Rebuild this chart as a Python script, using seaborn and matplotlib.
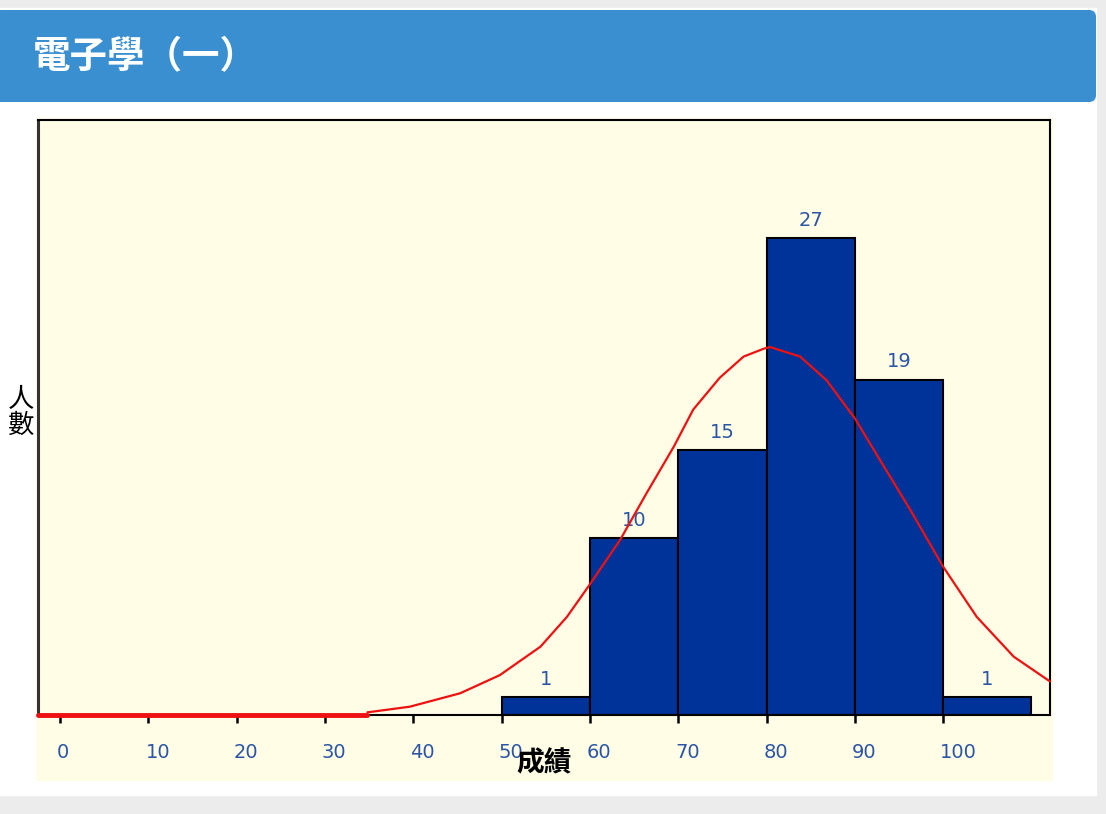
import matplotlib
matplotlib.use("Agg")
from matplotlib import pyplot as plt
from matplotlib.patches import Rectangle, FancyBboxPatch
from matplotlib.transforms import IdentityTransform, ScaledTranslation
import pandas as pd
import seaborn as sns

# chart texts
title = "電子學（一）"
x_label = "成績"
y_label = "人數"

# histogram: score bins and number of students
bin_edges = [50, 60, 70, 80, 90, 100, 110]
bin_counts = [1, 10, 15, 27, 19, 1]
x_ticks = [0, 10, 20, 30, 40, 50, 60, 70, 80, 90, 100]

# normal curve, points
curve_x = [34.8, 39.6, 45.3, 49.8, 54.4, 57.4, 59.8, 63.4, 66.4, 69.5, 71.7,
           74.7, 77.4, 79.7, 80.4, 83.8, 86.8, 90.0, 92.9, 96.3, 100.0,
           103.8, 108.0, 112.1]
curve_y = [0.15, 0.47, 1.23, 2.26, 3.87, 5.56, 7.26, 9.9, 12.55, 15.2, 17.3,
           19.1, 20.3, 20.75, 20.84, 20.3, 18.96, 16.8, 14.4, 11.6, 8.4,
           5.56, 3.3, 1.9]
# flat left part of the curve lying on the baseline
tail_x = [-2.5, 34.8]
tail_y = [0, 0]

sns.set_theme(style="white")
plt.rcParams['font.family'] = ['DejaVu Sans']
cjk = ['Noto Sans CJK TC', 'DejaVu Sans']

W, H = 1106, 814
fig = plt.figure(figsize=(W / 100, H / 100), dpi=100, facecolor="#ececec")


def box(x0, y0, x1, y1):
    # pixel box (top-left origin) -> figure fraction
    return [x0 / W, 1 - y1 / H, (x1 - x0) / W, (y1 - y0) / H]


# white card, blue header, yellow chart area
fig.patches.append(Rectangle(box(0, 8, 1096, 795)[:2], 1096 / W, 787 / H,
                             transform=fig.transFigure, color="white", zorder=-3))
fig.patches.append(FancyBboxPatch((-10, H - 102), 1106, 92,
                                  boxstyle="round,pad=0,rounding_size=7",
                                  transform=IdentityTransform(),
                                  facecolor="#3a8fd1", edgecolor="none", zorder=-2))
yb = box(36, 118, 1052, 780)
fig.patches.append(Rectangle(yb[:2], yb[2], yb[3], transform=fig.transFigure,
                             color="#fffde6", zorder=-2))

ax = fig.add_axes(box(38, 120, 1050, 715))
ax.set_zorder(2)
ax.set_facecolor("#fffde6")

df = pd.DataFrame({
    "start": bin_edges[:-1],
    "count": bin_counts,
})
df["mid"] = df["start"] + 5

sns.histplot(data=df, x="mid", weights="count", bins=bin_edges,
             color="#003399", alpha=1, edgecolor="black", linewidth=1.5, ax=ax)
ax.bar_label(ax.containers[0], padding=6, color="#2b55a5", fontsize=14)

sns.lineplot(x=curve_x, y=curve_y, color="#ee1111", linewidth=1.6, ax=ax)
sns.lineplot(x=tail_x, y=tail_y, color="#ee1111", linewidth=3.5, ax=ax)
for ln in ax.lines:
    ln.set_clip_on(False)
    ln.set_zorder(5)
    ln.set_solid_joinstyle("round")

ax.set_xlim(-2.5, 112.1)
ax.set_ylim(0, 33.7)
ax.set_xticks(x_ticks)
ax.set_yticks([])
ax.set_xlabel("")
ax.set_ylabel("")
ax.tick_params(axis="x", direction="out", length=6, width=1.8, color="black",
               pad=14, labelsize=14, labelcolor="#2b55a5", bottom=True)
shift = ScaledTranslation(-3 / 100, 0, fig.dpi_scale_trans)
for lbl in ax.get_xticklabels():
    lbl.set_horizontalalignment("left")
    lbl.set_transform(lbl.get_transform() + shift)

for side in ["top", "right", "bottom"]:
    ax.spines[side].set_color("black")
    ax.spines[side].set_linewidth(1.5)
ax.spines["left"].set_color("#333333")
ax.spines["left"].set_linewidth(2.2)

fig.text(33 / W, 1 - 57 / H, title, color="white", fontsize=27,
         fontweight="bold", family=cjk, ha="left", va="center")
fig.text(544 / W, 1 - 763 / H, x_label, color="black", fontsize=20,
         fontweight="bold", family=cjk, ha="center", va="center", zorder=3)
fig.text(21 / W, 1 - 412 / H, "\n".join(y_label), color="black", fontsize=19,
         family=cjk, ha="center", va="center", linespacing=0.95)

fig.savefig("out.png", dpi=100, facecolor=fig.get_facecolor())
